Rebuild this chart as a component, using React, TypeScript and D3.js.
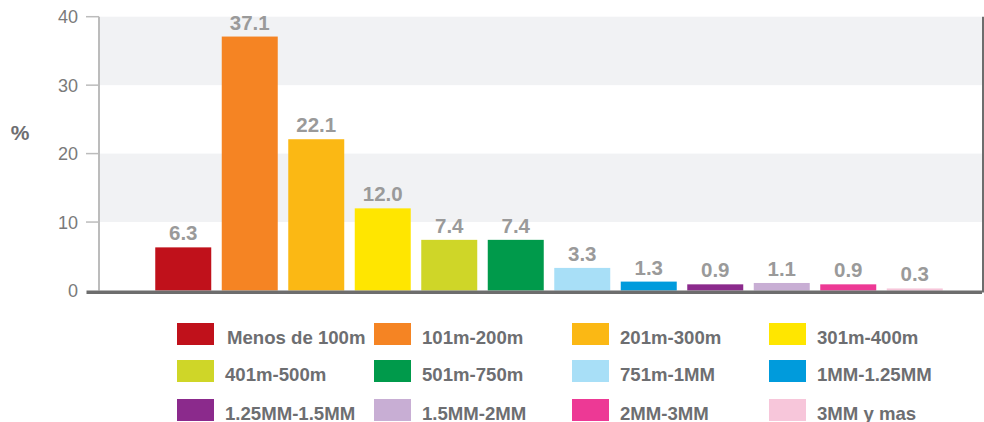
import React from "react";
import * as d3 from "d3";

const categories = [
  "Menos de 100m", "101m-200m", "201m-300m", "301m-400m",
  "401m-500m", "501m-750m", "751m-1MM", "1MM-1.25MM",
  "1.25MM-1.5MM", "1.5MM-2MM", "2MM-3MM", "3MM y mas",
];
const values = [6.3, 37.1, 22.1, 12.0, 7.4, 7.4, 3.3, 1.3, 0.9, 1.1, 0.9, 0.3];
const colors = [
  "#c0111b", "#f58423", "#fbb814", "#ffe600",
  "#cfd628", "#009a4b", "#a8dff7", "#009bdc",
  "#8b2a8c", "#c8aed4", "#ed3995", "#f7c6da",
];
const yTicks = [0, 10, 20, 30, 40];

const W = 984, H = 422;
const plotLeft = 100, plotRight = 982;
const yTop = 16.7, yZero = 290.5;

export default function App() {
  const x = d3.scaleBand<string>().domain(categories).range([150, 948]).paddingInner(0.158).paddingOuter(0.079);
  const y = d3.scaleLinear().domain([0, 40]).range([yZero, yTop]);
  const font = "'Liberation Sans', Arial, Helvetica, sans-serif";
  const bands = [[30, 40], [10, 20]];
  const colX = [177, 374, 572, 769];
  const rowY = [323, 360, 399];

  return (
    <svg width={W} height={H} style={{ position: "absolute", left: 0, top: 0, background: "#fff" }} fontFamily={font}>
      {bands.map(([a, b], i) => (
        <rect key={i} x={plotLeft} y={y(b)} width={plotRight - plotLeft} height={y(a) - y(b)} fill="#f1f2f4" />
      ))}
      <line x1={plotLeft - 1} x2={plotLeft - 1} y1={yTop} y2={yZero} stroke="#bcbcbc" strokeWidth={2} />
      <line x1={plotRight + 1} x2={plotRight + 1} y1={yTop} y2={yZero + 2} stroke="#6d6d6d" strokeWidth={2} />
      {yTicks.map((t) => (
        <g key={t}>
          {t > 0 && <line x1={86} x2={plotLeft - 1} y1={y(t)} y2={y(t)} stroke="#bcbcbc" strokeWidth={1.5} />}
          <text x={78} y={y(t)} dy="0.36em" textAnchor="end" fontSize={18} fill="#7a7a7a">{t}</text>
        </g>
      ))}
      <text x={20} y={132} dy="0.36em" textAnchor="middle" fontSize={21} fontWeight="bold" fill="#6d6e71">%</text>
      {categories.map((c, i) => (
        <g key={c}>
          <rect x={x(c)} y={y(values[i])} width={x.bandwidth()} height={yZero - y(values[i])} fill={colors[i]} />
          <text x={(x(c) as number) + x.bandwidth() / 2} y={y(values[i]) - 7} textAnchor="middle" fontSize={20.5} fontWeight="bold" fill="#9a9a9a">
            {values[i].toFixed(1)}
          </text>
        </g>
      ))}
      <line x1={86.5} x2={plotRight} y1={yZero + 1.8} y2={yZero + 1.8} stroke="#6d6d6d" strokeWidth={3.6} />
      {categories.map((c, i) => {
        const col = i % 4, row = Math.floor(i / 4);
        const sx = colX[col], sy = rowY[row];
        return (
          <g key={"lg" + c}>
            <rect x={sx} y={sy} width={37} height={22} fill={colors[i]} />
            <text x={sx + (i === 0 ? 50 : 48)} y={sy + 20.5} fontSize={18.6} fontWeight="bold" fill="#6d6e71">{c}</text>
          </g>
        );
      })}
    </svg>
  );
}
